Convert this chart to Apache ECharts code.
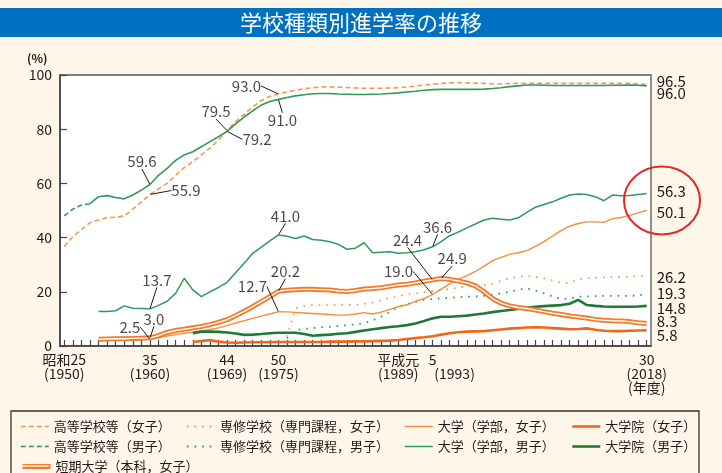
<!DOCTYPE html>
<html><head><meta charset="utf-8">
<script src="https://cdn.jsdelivr.net/npm/echarts@6/dist/echarts.min.js"></script>
<style>html,body{margin:0;padding:0;background:#FEF6E9;}#c{width:722px;height:473px;}</style>
</head><body><div id="c"></div>
<script>
// ---------- data ----------
const firstYear = 1950, lastYear = 2018;
const tickYears = ['1950','1960','1969','1975','1989','1993','2018'];
const tickEras  = ['昭和25','35','44','50','平成元','5','30'];
const unitX = '(年度)';

const names = {
  hsF:'高等学校等（女子）', hsM:'高等学校等（男子）',
  senF:'専修学校（専門課程，女子）', senM:'専修学校（専門課程，男子）',
  univF:'大学（学部，女子）', univM:'大学（学部，男子）',
  gradF:'大学院（女子）', gradM:'大学院（男子）',
  jc:'短期大学（本科，女子）'
};

// start years of each series
const hsFemaleStart = 1950;
const hsFemale = [36.7,40.3,43.0,45.5,46.5,47.4,47.5,48.0,50.5,53.2,
 55.9,58.0,60.0,63.0,65.8,68.0,70.5,73.0,76.0,79.5,
 82.7,85.5,88.3,90.5,92.1,93.0,93.8,94.4,94.9,95.3,
 95.6,95.6,95.5,95.4,95.2,95.1,95.1,95.1,95.2,95.3,
 95.6,95.9,96.3,96.6,96.9,97.1,97.2,97.1,97.0,96.9,
 96.7,96.7,96.8,96.9,96.9,96.9,96.9,96.9,96.9,96.9,
 96.9,96.9,96.9,96.9,96.9,96.9,96.9,96.7,96.5];
const hsMaleStart = 1950;
const hsMaleDashedUntil = 1953;
const hsMale = [48.0,50.5,52.0,52.5,55.1,55.5,54.8,54.3,55.7,57.5,
 59.6,63.0,65.5,68.5,70.5,71.7,73.5,75.4,77.2,79.2,
 82.0,84.5,86.8,88.9,90.2,91.0,91.7,92.3,92.7,93.1,
 93.2,93.2,93.0,92.9,92.8,92.8,92.9,93.0,93.2,93.4,
 93.7,94.0,94.4,94.6,94.7,94.7,94.7,94.7,94.7,94.8,
 95.0,95.3,95.7,96.0,96.3,96.3,96.2,96.1,96.1,96.1,
 96.1,96.1,96.1,96.1,96.2,96.2,96.3,96.2,96.0];
const univMaleStart = 1954;
const univMale = [12.7,12.7,13.0,14.8,13.9,13.8,
 13.7,15.0,16.5,19.4,25.0,20.7,18.2,20.0,21.6,23.5,
 27.0,30.5,34.2,36.5,38.8,41.0,40.5,39.7,40.6,39.3,
 39.0,38.5,37.5,35.7,36.1,38.1,34.4,34.6,34.8,34.2,
 34.4,34.8,35.5,36.6,38.5,40.7,42.0,43.6,45.0,46.5,
 47.1,46.8,46.5,47.3,49.3,51.2,52.2,53.2,54.5,55.7,
 56.1,55.9,55.1,53.6,55.7,55.4,55.5,55.9,56.3];
const univFemaleStart = 1954;
const univFemale = [2.2,2.3,2.3,2.4,2.4,2.5,
 2.5,3.0,3.7,4.2,4.7,5.2,5.6,6.1,6.7,7.5,
 8.5,9.3,10.2,11.0,11.8,12.7,12.6,12.4,12.2,12.0,
 11.8,11.6,11.4,11.4,11.8,12.3,11.8,12.5,13.5,14.5,
 15.2,16.5,17.5,19.0,21.0,22.9,24.6,26.0,27.5,29.4,
 31.5,32.7,33.8,34.4,35.2,36.8,38.5,40.6,42.6,44.2,
 45.2,45.8,45.8,45.6,47.0,47.4,48.2,49.1,50.1];
const juniorCollegeStart = 1954;
const juniorCollege = [2.5,2.6,2.7,2.7,2.8,2.9,
 3.0,3.8,5.0,5.7,6.2,6.7,7.2,7.9,8.7,9.7,
 11.2,12.8,14.5,16.4,18.2,20.2,20.6,20.8,20.9,20.9,
 20.8,20.7,20.3,20.1,20.5,21.0,21.2,21.5,22.0,22.5,
 22.8,23.3,23.9,24.4,24.9,24.6,24.0,23.3,22.2,20.0,
 17.5,15.8,14.8,14.2,13.8,13.3,12.7,12.1,11.6,11.1,
 10.7,10.3,9.8,9.5,9.3,9.2,9.0,8.6,8.3];
const senmonFemaleStart = 1976;
const senmonFemale = [3.4,13.9,14.8,15.1,
 15.1,15.1,15.1,15.1,15.2,15.5,16.0,16.8,17.8,18.5,
 19.0,19.4,19.8,20.2,20.6,21.0,21.5,22.0,22.4,22.4,
 23.0,24.0,25.0,25.5,25.8,25.5,25.0,24.2,23.4,23.3,
 24.6,25.0,25.2,25.3,25.4,25.5,25.6,25.7,26.2];
const senmonMaleStart = 1976;
const senmonMale = [2.8,5.9,6.3,6.6,
 6.9,7.1,7.4,7.7,8.0,8.4,9.5,10.8,12.5,14.5,
 15.5,16.3,17.0,17.3,17.6,17.8,18.0,18.2,18.3,18.5,
 19.0,19.4,20.0,20.7,21.3,20.5,19.4,18.3,17.3,17.5,
 18.2,18.3,18.4,18.5,18.5,18.5,18.5,18.6,19.3];
const gradMaleStart = 1965;
const gradMale = [4.7,5.3,5.3,5.2,5.0,
 4.6,4.1,4.2,4.4,4.7,4.9,4.9,4.9,4.4,3.8,
 4.0,4.2,4.5,4.7,5.2,5.7,6.2,6.6,7.0,7.3,
 7.7,8.3,9.2,10.2,10.8,10.8,11.0,11.2,11.6,12.0,
 12.5,12.9,13.3,13.7,14.1,14.5,14.7,14.9,15.1,15.6,
 17.0,15.1,14.8,14.6,14.5,14.5,14.5,14.6,14.8];
const gradFemaleStart = 1965;
const gradFemale = [1.5,1.8,2.2,1.6,1.3,
 1.2,1.3,1.4,1.4,1.4,1.5,1.5,1.5,1.5,1.5,
 1.5,1.6,1.6,1.6,1.7,1.7,1.8,1.9,2.0,2.2,
 2.6,2.9,3.2,3.6,4.2,4.7,5.1,5.3,5.4,5.5,
 5.8,6.1,6.4,6.6,6.8,6.9,6.8,6.6,6.4,6.2,
 6.3,6.5,6.0,5.6,5.5,5.5,5.6,5.7,5.8];

// annotated points: series key + year
const annoKeys  = ['hsF','hsF','hsF','hsM','hsM','hsM','univM','univM','univM','univF','univF','univF','jc','jc','jc','jc'];
const annoYears = ['1960','1969','1975','1960','1969','1975','1960','1975','1993','1960','1975','1993','1960','1975','1993','1994'];

// ---------- build ----------
const years = [];
for (let y = firstYear; y <= lastYear; y++) years.push(String(y));
function pad(start, arr) {
  const out = years.map(() => null);
  arr.forEach((v, i) => { out[start - firstYear + i] = v; });
  return out;
}
const D = {
  hsF: pad(hsFemaleStart, hsFemale),
  hsM: pad(hsMaleStart, hsMale),
  univM: pad(univMaleStart, univMale),
  univF: pad(univFemaleStart, univFemale),
  jc: pad(juniorCollegeStart, juniorCollege),
  senF: pad(senmonFemaleStart, senmonFemale),
  senM: pad(senmonMaleStart, senmonMale),
  gradM: pad(gradMaleStart, gradMale),
  gradF: pad(gradFemaleStart, gradFemale)
};
const hsMDashed = D.hsM.map((v, i) => (firstYear + i <= hsMaleDashedUntil ? v : null));
const hsMSolid  = D.hsM.map((v, i) => (firstYear + i >= hsMaleDashedUntil ? v : null));

// ---------- styles ----------
const FONT = '"Noto Sans CJK JP", "Noto Sans", sans-serif';
const C = {
  orange: '#F39A52', orangeThin: '#F38E3E', orangeDeep: '#F0671A', jc: '#F27A2A',
  green: '#2F9A57', greenDark: '#1E7A33', text: '#231815'
};
const W = { hs: 1.6, sen: 1.8, univ: 1.5, grad: 2.6, jc: 5, jcInner: 1.4 };
const endOffsets = { hsF: -3, hsM: 7, univM: -2, univF: 2, senF: 2, senM: 0, gradM: 2, jc: -2, gradF: 5 };
const annoOffsets = [[36,-4],[-11,-19],[-32,-8],[-8,-23],[30,8],[4,21],[7,-29],[7,-19],[5,-20],
  [-20,-12],[-26,-25],[-34,-23],[4,-19],[7,-20],[-25,-40],[11,-20]];

function endLabel(key) {
  return { show: true, distance: 10, offset: [0, endOffsets[key]], fontSize: 15, color: C.text,
    fontFamily: FONT, formatter: p => Number(p.value).toFixed(1) };
}
function lineSeries(name, data, color, width, type, key, z) {
  const s = { name, type: 'line', data, symbol: 'none', showSymbol: false, connectNulls: false,
    lineStyle: { color, width, type, cap: 'butt' }, itemStyle: { color }, silent: true, z: z || 2 };
  if (key) s.endLabel = endLabel(key);
  return s;
}

const series = [
  lineSeries(names.hsF, D.hsF, C.orange, W.hs, [5, 3], 'hsF', 2),
  lineSeries(names.hsM, hsMDashed, C.green, W.hs, [5, 3], null, 2),
  lineSeries('hsMSolid', hsMSolid, C.green, W.hs, 'solid', 'hsM', 2),
  lineSeries(names.senF, D.senF, C.orange, W.sen, [1.6, 6], 'senF', 2),
  lineSeries(names.senM, D.senM, C.green, W.sen, [1.6, 6], 'senM', 2),
  lineSeries(names.univF, D.univF, C.orangeThin, 1.4, 'solid', 'univF', 3),
  lineSeries(names.univM, D.univM, C.green, W.univ, 'solid', 'univM', 3),
  lineSeries(names.gradF, D.gradF, C.orangeDeep, W.grad, 'solid', 'gradF', 3),
  lineSeries(names.gradM, D.gradM, C.greenDark, W.grad, 'solid', 'gradM', 3),
  lineSeries(names.jc, D.jc, C.jc, W.jc, 'solid', 'jc', 4),
  lineSeries('jcInner', D.jc, '#ffffff', W.jcInner, 'solid', null, 5),
  {
    type: 'scatter', name: 'annotations', silent: true, z: 10,
    symbolSize: 1, itemStyle: { color: 'rgba(0,0,0,0)' },
    data: annoKeys.map((k, i) => ({ value: [annoYears[i], D[k][Number(annoYears[i]) - firstYear]] })),
    label: { show: true, position: 'inside', fontSize: 15, color: C.text, fontFamily: FONT, padding: 2,
      formatter: p => Number(p.value[1]).toFixed(1) },
    labelLine: { show: true, lineStyle: { color: '#231815', width: 1 } },
    labelLayout: p => ({ dx: annoOffsets[p.dataIndex][0], dy: annoOffsets[p.dataIndex][1] })
  }
];

// legends
const legendCols = [20, 186, 404, 571];
const legendRows = [420, 440, 460];
const legendGrid = [
  [names.hsF, names.senF, names.univF, names.gradF],
  [names.hsM, names.senM, names.univM, names.gradM],
  [names.jc]
];
const legendWidths = [[W.hs, W.sen, W.univ, W.grad], [W.hs, W.sen, W.univ, W.grad], [W.jc]];
const legendBase = { padding: 0, itemWidth: 28, itemHeight: 12, selectedMode: false,
  itemStyle: { opacity: 0, borderWidth: 0 }, textStyle: { fontSize: 13, color: C.text, fontFamily: FONT } };
const legends = [];
legendGrid.forEach((row, r) => row.forEach((nm, c) => {
  legends.push(Object.assign({}, legendBase, { left: legendCols[c], top: legendRows[r], data: [nm],
    lineStyle: { width: legendWidths[r][c] } }));
}));
legends.push(Object.assign({}, legendBase, { left: legendCols[0], top: legendRows[2], data: ['jcInner'],
  formatter: () => '', lineStyle: { width: W.jcInner } }));

const chart = echarts.init(document.getElementById('c'), null, { renderer: 'canvas' });
chart.setOption({
  animation: false,
  backgroundColor: '#FEF6E9',
  textStyle: { fontFamily: FONT },
  grid: { left: 60, right: 71, top: 75, bottom: 127, show: true, backgroundColor: '#ffffff',
    borderColor: '#555555', borderWidth: 1.3 },
  xAxis: {
    type: 'category', data: years, boundaryGap: true,
    axisLine: { lineStyle: { color: '#444', width: 1.6 } },
    axisTick: { show: true, inside: true, alignWithLabel: true, interval: 0, length: 6,
      lineStyle: { color: '#444', width: 1.2 } },
    axisLabel: {
      interval: (i, v) => tickYears.indexOf(v) >= 0,
      margin: 7, fontSize: 14, lineHeight: 14, color: C.text, fontFamily: FONT,
      formatter: v => {
        const i = tickYears.indexOf(v);
        if (v === '1993') return '{a|' + tickEras[i] + '}\n{b|(' + v + ')}';
        if (v === lastYear.toString()) return tickEras[i] + '\n(' + v + ')\n' + unitX;
        return tickEras[i] + '\n(' + v + ')';
      },
      rich: {
        a: { fontSize: 14, lineHeight: 14, align: 'center', color: C.text, fontFamily: FONT },
        b: { fontSize: 14, lineHeight: 14, padding: [0, 0, 0, 44], color: C.text, fontFamily: FONT }
      }
    },
    splitLine: { show: false }
  },
  yAxis: {
    type: 'value', min: 0, max: 100, interval: 20,
    axisLine: { show: true, lineStyle: { color: '#444', width: 1.6 } },
    axisTick: { show: true, inside: true, length: 7, lineStyle: { color: '#444', width: 1.2 } },
    axisLabel: { fontSize: 14, color: C.text, margin: 8, fontFamily: FONT },
    splitLine: { show: false }
  },
  legend: legends,
  series,
  graphic: [
    { type: 'rect', shape: { x: 0, y: 8, width: 722, height: 29 }, style: { fill: '#0070C0' }, silent: true },
    { type: 'text', x: 361, y: 23, style: { text: '学校種類別進学率の推移', fill: '#ffffff', font: '22px ' + FONT,
      textAlign: 'center', textVerticalAlign: 'middle' }, silent: true },
    { type: 'text', x: 27, y: 52, style: { text: '(%)', fill: C.text, font: 'bold 12px ' + FONT }, silent: true },
    { type: 'rect', shape: { x: 11, y: 411, width: 688, height: 72 }, style: { fill: null, stroke: '#333', lineWidth: 1.3 }, silent: true },
    { type: 'ellipse', shape: { cx: 662, cy: 200.5, rx: 38, ry: 34 }, style: { fill: null, stroke: '#E52521', lineWidth: 2 }, silent: true, z: 20 }
  ]
});
</script></body></html>
